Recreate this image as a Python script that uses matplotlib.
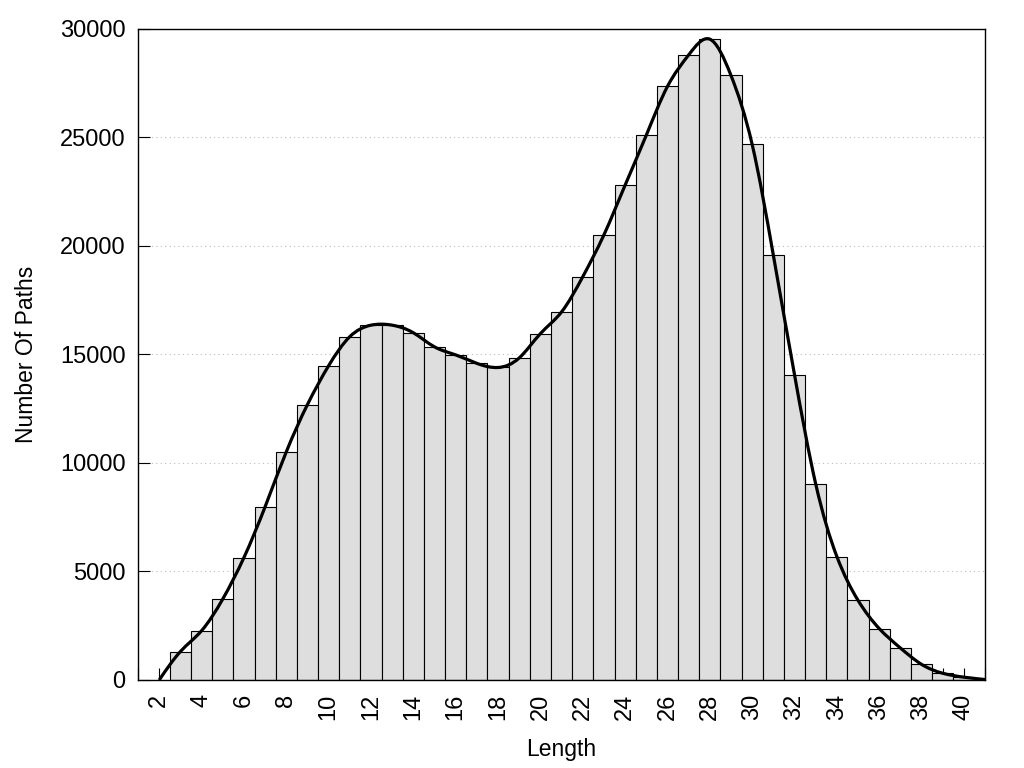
import numpy as np
import matplotlib
import matplotlib.pyplot as plt
from matplotlib.path import Path
from matplotlib.patches import PathPatch

matplotlib.use('Agg')

"""Path counts per length, read off the histogram"""
lengths = list(range(2, 42))
counts = [0, 1310, 2270, 3730, 5640, 7980, 10510, 12690, 14480, 15820,
          16350, 16350, 16000, 15350, 14980, 14590, 14400, 14840, 15960, 16960,
          18580, 20510, 22800, 25100, 27350, 28800, 29530, 27860, 24680, 19580,
          14070, 9040, 5690, 3670, 2370, 1475, 720, 310, 130, 20]
x_ticks = list(range(2, 41, 2))
y_ticks = [0, 5000, 10000, 15000, 20000, 25000, 30000]

plt.rcParams['font.family'] = ['Liberation Sans', 'DejaVu Sans']

fig = plt.figure(figsize=(10.24, 7.68), dpi=100)
ax = fig.add_axes([0.1348, 0.1146, 0.8272, 0.8477])
ax.set_axisbelow(True)

"""Bars: no box at the first length (zero count)"""
widths = [0 if c == 0 else 1 for c in counts]
ax.bar(lengths, counts, width=widths, color='#dedede', edgecolor='black',
       linewidth=0.8, zorder=1)

"""Smooth line: natural cubic spline through the counts, drawn as bezier path"""
x = np.array(lengths, dtype=float)
y = np.array(counts, dtype=float)
n = len(x)
A = np.zeros((n, n))
r = np.zeros(n)
A[0, 0] = 1
A[-1, -1] = 1
for i in range(1, n - 1):
    A[i, i - 1], A[i, i], A[i, i + 1] = 1, 4, 1
    r[i] = 6 * (y[i + 1] - 2 * y[i] + y[i - 1])
M = np.linalg.solve(A, r)
m = np.zeros(n)
m[:-1] = (y[1:] - y[:-1]) - (2 * M[:-1] + M[1:]) / 6
m[-1] = (y[-1] - y[-2]) + (M[-2] + 2 * M[-1]) / 6

verts = [(x[0], y[0])]
codes = [Path.MOVETO]
for i in range(n - 1):
    verts += [(x[i] + 1 / 3, y[i] + m[i] / 3),
              (x[i + 1] - 1 / 3, y[i + 1] - m[i + 1] / 3),
              (x[i + 1], y[i + 1])]
    codes += [Path.CURVE4] * 3
ax.add_patch(PathPatch(Path(verts, codes), facecolor='none', edgecolor='black',
                       linewidth=2.3, zorder=3, clip_on=True))

"""Axes look"""
ax.set_xlim(1, 41)
ax.set_ylim(0, 30000)
ax.set_xticks(x_ticks)
ax.set_xticks(range(1, 42), minor=True)
ax.set_xticklabels([str(t) for t in x_ticks], rotation=90, fontsize=17)
ax.set_yticks(y_ticks)
ax.set_yticklabels([str(t) for t in y_ticks], fontsize=17)
ax.tick_params(axis='both', which='both', direction='in', length=8.5, width=0.8,
               top=False, right=False)
ax.tick_params(axis='x', which='major', pad=10)
ax.tick_params(axis='y', which='major', pad=9)
ax.yaxis.grid(True, linestyle=(0, (1, 3)), color='#bbbbbb', linewidth=0.8)
for s in ax.spines.values():
    s.set_linewidth(1.0)
    s.set_zorder(4)

ax.set_xlabel('Length', fontsize=16.5, labelpad=13)
ax.set_ylabel('Number Of Paths', fontsize=16.5, labelpad=16)

fig.savefig('out.png', dpi=100)
